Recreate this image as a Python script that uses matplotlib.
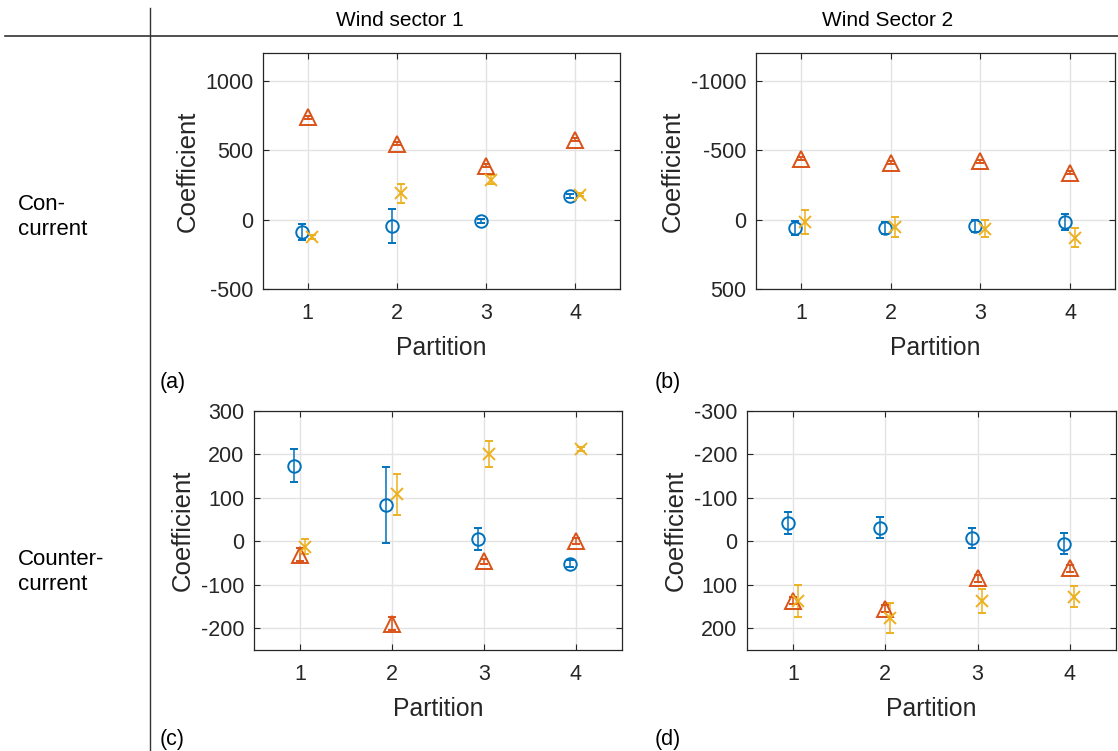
import matplotlib.pyplot as plt
from matplotlib.lines import Line2D
import numpy as np

plt.rcParams['font.family'] = ['Liberation Sans', 'DejaVu Sans']
plt.rcParams['axes.unicode_minus'] = False

# partitions on the x axis
partition = [1, 2, 3, 4]

# (a) concurrent, wind sector 1
a_blue = [-90, -45, -10, 171]
a_blue_err = [60, 122, 12, 15]
a_orange = [738, 548, 388, 576]
a_orange_err = [10, 10, 10, 10]
a_yellow = [-126, 190, 286, 179]
a_yellow_err = [14, 68, 32, 10]

# (b) concurrent, wind sector 2 (reversed axis)
b_blue = [60, 60, 48, 19]
b_blue_err = [50, 42, 42, 58]
b_orange = [-440, -410, -421, -338]
b_orange_err = [10, 10, 10, 10]
b_yellow = [19, 55, 67, 131]
b_yellow_err = [88, 72, 62, 70]

# (c) counter-current, wind sector 1
c_blue = [174, 84, 6, -52]
c_blue_err = [38, 88, 25, 8]
c_orange = [-31, -190, -46, 1]
c_orange_err = [15, 15, 6, 6]
c_yellow = [-12, 108, 201, 213]
c_yellow_err = [17, 48, 29, 5]

# (d) counter-current, wind sector 2 (reversed axis)
d_blue = [-43, -31, -8, 5]
d_blue_err = [25, 24, 23, 24]
d_orange = [137, 155, 85, 62]
d_orange_err = [8, 8, 8, 8]
d_yellow = [137, 176, 137, 127]
d_yellow_err = [36, 34, 27, 25]

blue = '#0072BD'
orange = '#D95319'
yellow = '#EDB120'
axcol = '#262626'

W, H = 1118, 751
fig = plt.figure(figsize=(W / 100, H / 100), dpi=100)


def box(l, r, t, b):
    return [l / W, 1 - b / H, (r - l) / W, (b - t) / H]


def panel(rect, bl, ble, og, oge, yl, yle, ylim, yticks, reverse):
    ax = fig.add_axes(rect)
    x = np.array(partition, dtype=float)
    kw = dict(linestyle='none', capsize=3, elinewidth=1.1, markeredgewidth=1.4,
              markerfacecolor='none')
    ax.errorbar(x - 0.06, bl, yerr=ble, marker='o', markersize=9, color=blue, **kw)
    ax.errorbar(x, og, yerr=oge, marker='^', markersize=11, color=orange, **kw)
    ax.errorbar(x + 0.05, yl, yerr=yle, marker='x', markersize=8, color=yellow, **kw)
    ax.set_xlim(0.5, 4.5)
    ax.set_xticks(partition)
    ax.set_yticks(yticks)
    if reverse:
        ax.set_ylim(ylim[1], ylim[0])
    else:
        ax.set_ylim(ylim)
    ax.grid(True, color='#e3e3e3', linewidth=1.0)
    ax.set_axisbelow(True)
    ax.tick_params(direction='in', length=4, top=True, right=True,
                   colors=axcol, labelsize=15.5, width=0.8)
    ax.tick_params(axis='x', pad=10)
    ax.tick_params(axis='y', pad=7)
    for s in ax.spines.values():
        s.set_color(axcol)
        s.set_linewidth(0.9)
    ax.set_xlabel('Partition', fontsize=17.8, color=axcol, labelpad=9)
    ax.set_ylabel('Coefficient', fontsize=18.5, color=axcol, labelpad=4)
    return ax


panel(box(263, 620, 53, 289), a_blue, a_blue_err, a_orange, a_orange_err,
      a_yellow, a_yellow_err, (-500, 1200), [-500, 0, 500, 1000], False)
panel(box(756, 1115, 53, 289), b_blue, b_blue_err, b_orange, b_orange_err,
      b_yellow, b_yellow_err, (-1200, 500), [-1000, -500, 0, 500], True)
panel(box(254, 622, 411, 650), c_blue, c_blue_err, c_orange, c_orange_err,
      c_yellow, c_yellow_err, (-250, 300), [-200, -100, 0, 100, 200, 300], False)
panel(box(747, 1116, 411, 650), d_blue, d_blue_err, d_orange, d_orange_err,
      d_yellow, d_yellow_err, (-300, 250), [-300, -200, -100, 0, 100, 200], True)

# table rules
fig.add_artist(Line2D([5 / W, 1], [1 - 36 / H, 1 - 36 / H], color='#333333', lw=1.2))
fig.add_artist(Line2D([150 / W, 150 / W], [0, 1 - 8 / H], color='#333333', lw=1.0))

# column and row headers
fig.text(400 / W, 1 - 20 / H, 'Wind sector 1', ha='center', va='center', fontsize=15)
fig.text(888 / W, 1 - 20 / H, 'Wind Sector 2', ha='center', va='center', fontsize=15)
fig.text(18 / W, 1 - 217 / H, 'Con-\ncurrent', ha='left', va='center', fontsize=16,
         linespacing=1.2)
fig.text(18 / W, 1 - 572 / H, 'Counter-\ncurrent', ha='left', va='center', fontsize=16,
         linespacing=1.2)

# panel letters
for lab, px, py in [('(a)', 160, 382), ('(b)', 655, 382), ('(c)', 160, 740), ('(d)', 655, 740)]:
    fig.text(px / W, 1 - py / H, lab, ha='left', va='center', fontsize=15.5)

fig.savefig('out.png', dpi=100)
